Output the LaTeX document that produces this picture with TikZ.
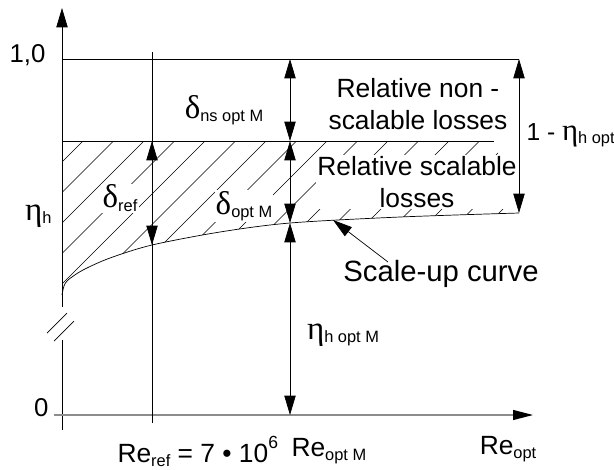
\documentclass[tikz,border=0pt]{standalone}
\usepackage{fontspec}
\setmainfont{Liberation Sans}
\newfontfamily\grkfont[Scale=1.25]{Liberation Serif}
\usetikzlibrary{arrows.meta}

\newcommand{\gdelta}{{\grkfont δ}}
\newcommand{\geta}{{\grkfont η}}
\newcommand{\lo}[1]{\raisebox{-0.25ex}{\fontsize{14}{16}\selectfont #1}}
\newcommand{\hi}[1]{\raisebox{1.05ex}{\fontsize{15}{17}\selectfont #1}}

\begin{document}
\begin{tikzpicture}[x=0.03cm, y=-0.03cm, line width=0.6pt,
  every node/.style={font=\fontsize{22.5}{27}\selectfont, inner sep=1pt},
  axlbl/.style={font=\fontsize{22}{26}\selectfont},
  tip/.style={-{Triangle[length=0.58cm,width=0.34cm]}},
  dim/.style={{Triangle[length=0.58cm,width=0.34cm]}-{Triangle[length=0.58cm,width=0.34cm]}},
  hatch/.style={line width=0.5pt},
  blank/.style={fill=white}]
  \useasboundingbox (0,0) rectangle (614,469);

  % key points
  \coordinate (ytop) at (62,8);
  \coordinate (ybrka) at (62,307);
  \coordinate (ybrkb) at (62,340);
  \coordinate (ybot) at (62,430);
  \coordinate (xl) at (54,415);
  \coordinate (xr) at (533,415);
  \coordinate (onel) at (62,59);
  \coordinate (oner) at (519,59);
  \coordinate (etal) at (62,141);
  \coordinate (etar) at (494,141);
  \coordinate (refa) at (152,52);
  \coordinate (refb) at (152,423);
  \coordinate (refm) at (152,141);
  \coordinate (refc) at (152,245);
  \coordinate (opta) at (290,59);
  \coordinate (optb) at (290,141);
  \coordinate (optc) at (290,223);
  \coordinate (optd) at (290,415);
  \coordinate (endc) at (519,213);
  \coordinate (ptr) at (388,262);
  \coordinate (ptrtip) at (333,220);

  % hatching of scalable losses
  \begin{scope}
    \clip plot[smooth] coordinates {(62,295) (64,286) (68,280) (83,270) (110,258) (152,245) (220,232) (290,223) (400,217) (519,213)}
      -- (494,141) -- (62,141) -- cycle;
    \foreach \c in {224,254.5,...,740}{
      \draw[hatch] (\c-330,330) -- (\c-120,120);
    }
  \end{scope}

  % labels
  \node[axlbl, anchor=east] (one) at (47,55) {1,0};
  \node[anchor=east] (eta) at (53,216) {\geta\lo{h}};
  \node[axlbl, anchor=east] (zero) at (50,408) {0};
  \node (dns) at (224,110) {\gdelta\lo{ns opt M}};
  \node[blank] (dref) at (120,198) {\gdelta\lo{ref}};
  \node[blank] (dopt) at (244,206) {\gdelta\lo{opt M}};
  \node[align=center] (nonsc) at (418,104) {Relative non -\\scalable losses};
  \node[align=center, blank] (sc) at (417,182) {Relative scalable\\losses};
  \node[anchor=west, font=\fontsize{21}{25}\selectfont] (oneeta) at (525,135) {1 - \geta\lo{h opt}};
  \node[font=\fontsize{25}{30}\selectfont] (sclbl) at (441,274) {Scale-up curve};
  \node (etaopt) at (343,335) {\geta\lo{h opt M}};
  \node[anchor=west] (reref) at (116,451) {Re\lo{ref} = 7 \textbullet\ 10\hi{6}};
  \node[anchor=west] (reoptm) at (290,451) {Re\lo{opt M}};
  \node (reopt) at (508,449) {Re\lo{opt}};

  % axes
  \draw[tip] (ybrka) -- (ytop);
  \draw (ybrkb) -- (ybot);
  \draw (47,333) -- (67,313);
  \draw (54,341) -- (74,321);
  \draw[black!45, line width=1pt, -{Triangle[length=0.6cm,width=0.3cm,color=black]}] (xl) -- (xr);

  % reference lines
  \draw (onel) -- (oner);
  \draw (etal) -- (etar);
  \draw (refa) -- (refb);
  \draw plot[smooth] coordinates {(62,295) (64,286) (68,280) (83,270) (110,258) (152,245) (220,232) (290,223) (400,217) (519,213)};

  % dimension arrows
  \draw[dim] (refm) -- (refc);
  \draw[dim] (opta) -- (optb);
  \draw[dim] (optb) -- (optc);
  \draw[dim] (optc) -- (optd);
  \draw[dim] (oner) -- (endc);
  \draw[tip] (ptr) -- (ptrtip);
\end{tikzpicture}
\end{document}
